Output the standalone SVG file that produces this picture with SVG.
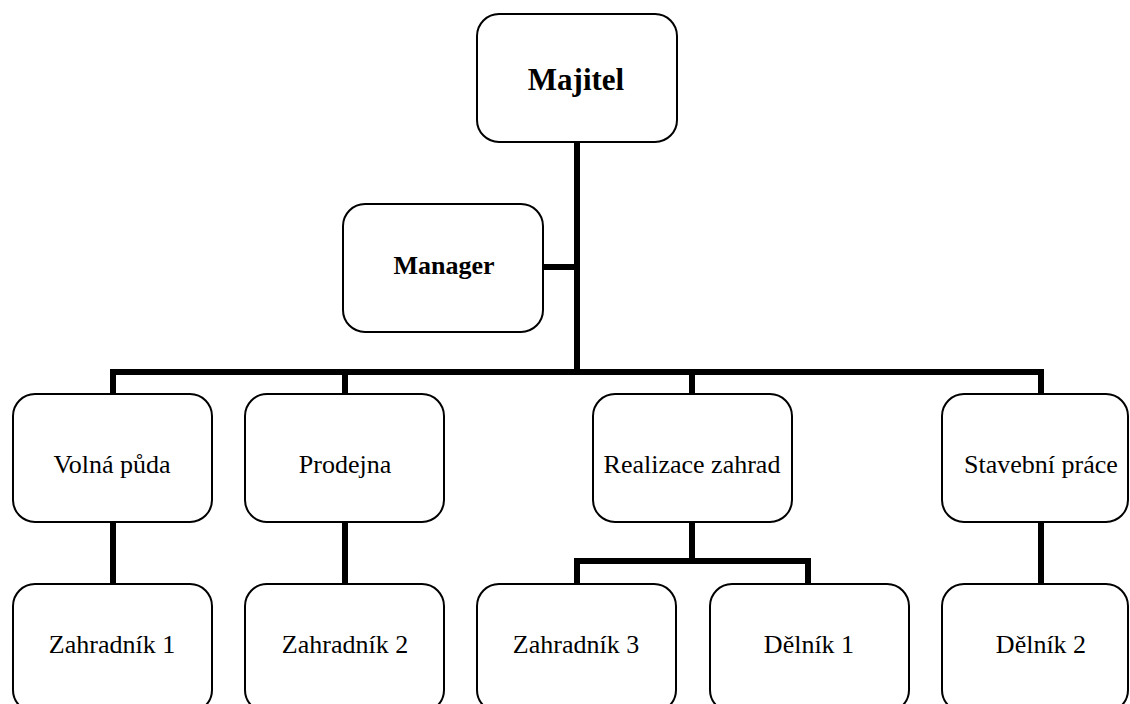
<svg xmlns="http://www.w3.org/2000/svg" width="1130" height="704" viewBox="0 0 1130 704">
<style>
.box{fill:#fff;stroke:#000;stroke-width:2}
.t{font-family:"Liberation Serif","Times New Roman",serif;font-size:26px;fill:#000;text-anchor:middle}
.b{font-weight:bold}
.c{fill:none;stroke:#000;stroke-width:6;stroke-linecap:square}
</style>
<rect width="1130" height="704" fill="#fff"/>
<g id="connectors">
<path class="c" d="M577 142V372M546 267H577M113 372H1041M113 372V392M345 372V392M692 372V392M1041 372V392"/>
<path class="c" d="M113 523V582M345 523V582M1041 523V582M692 523V561M577 561H808M577 561V582M808 561V582"/>
</g>
<g id="majitel"><rect class="box" x="477" y="14" width="200" height="128" rx="22"/><text class="t b" x="576" y="90" style="font-size:31px">Majitel</text></g>
<g id="manager"><rect class="box" x="343" y="204" width="200" height="128" rx="22"/><text class="t b" x="444" y="274" style="font-size:26px">Manager</text></g>
<g id="volna-puda"><rect class="box" x="13" y="394" width="199" height="128" rx="22"/><text class="t" x="112" y="473">Volná půda</text></g>
<g id="prodejna"><rect class="box" x="245" y="394" width="199" height="128" rx="22"/><text class="t" x="345" y="473">Prodejna</text></g>
<g id="realizace"><rect class="box" x="593" y="394" width="199" height="128" rx="22"/><text class="t" x="692" y="473">Realizace zahrad</text></g>
<g id="stavebni"><rect class="box" x="942" y="394" width="186" height="128" rx="22"/><text class="t" x="1041" y="473">Stavební práce</text></g>
<g id="zahradnik1"><rect class="box" x="13" y="584" width="199" height="128" rx="22"/><text class="t" x="112" y="653">Zahradník 1</text></g>
<g id="zahradnik2"><rect class="box" x="245" y="584" width="199" height="128" rx="22"/><text class="t" x="345" y="653">Zahradník 2</text></g>
<g id="zahradnik3"><rect class="box" x="477" y="584" width="199" height="128" rx="22"/><text class="t" x="576" y="653">Zahradník 3</text></g>
<g id="delnik1"><rect class="box" x="710" y="584" width="199" height="128" rx="22"/><text class="t" x="809" y="653">Dělník 1</text></g>
<g id="delnik2"><rect class="box" x="942" y="584" width="186" height="128" rx="22"/><text class="t" x="1041" y="653">Dělník 2</text></g>
</svg>
